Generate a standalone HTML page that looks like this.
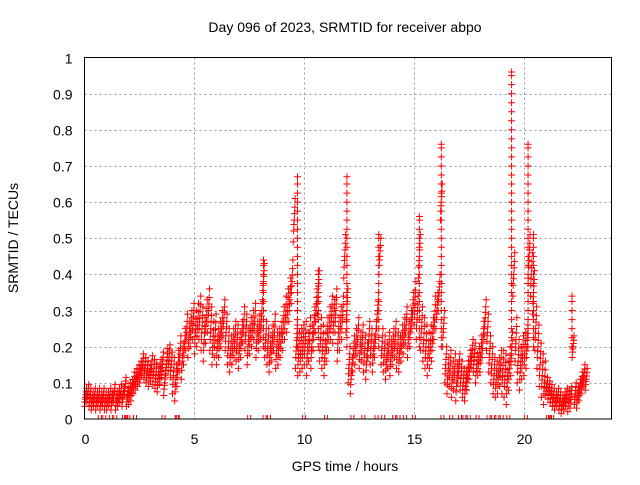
<!DOCTYPE html>
<html><head><meta charset="utf-8"><style>
body{margin:0;background:#fff}
svg text{font-family:"Liberation Sans",sans-serif;font-size:14px;fill:#000}
</style></head><body>
<svg id="chart" width="640" height="480" xmlns="http://www.w3.org/2000/svg">
<rect width="640" height="480" fill="#fff"/>
<text x="345" y="32" text-anchor="middle">Day 096 of 2023, SRMTID for receiver abpo</text>
<text x="345" y="471" text-anchor="middle">GPS time / hours</text>
<text transform="translate(18,238) rotate(-90)" text-anchor="middle">SRMTID / TECUs</text>
<g id="grid"></g><g id="marks"></g>
<rect x="84.5" y="57.5" width="527" height="361.5" fill="none" stroke="#000" stroke-width="1"/>
</svg>
<script>
const xTicks=[0,5,10,15,20];
const yTicks=[0,0.1,0.2,0.3,0.4,0.5,0.6,0.7,0.8,0.9,1];
const yTickLabels=["0","0.1","0.2","0.3","0.4","0.5","0.6","0.7","0.8","0.9","1"];
const midValues=[
.06,.07,.06,.05,.06,.05,.06,.05,.06,.05,
.05,.06,.05,.07,.05,.06,.07,.06,.09,.06,
.07,.08,.10,.11,.12,.13,.15,.14,.13,.12,
.14,.13,.12,.11,.13,.15,.10,.16,.17,.15,
.12,.10,.14,.18,.16,.20,.24,.22,.25,.27,
.24,.26,.28,.25,.22,.27,.30,.25,.21,.23,
.20,.22,.25,.28,.24,.20,.18,.20,.22,.21,
.19,.22,.26,.24,.20,.23,.25,.27,.22,.24,
.27,.38,.22,.20,.18,.21,.24,.19,.20,.22,
.25,.28,.30,.33,.38,.55,.20,.18,.19,.20,
.21,.18,.22,.20,.25,.30,.35,.22,.20,.18,
.22,.25,.28,.27,.30,.22,.25,.28,.45,.30,
.15,.12,.18,.20,.23,.19,.21,.18,.16,.22,
.20,.18,.22,.30,.45,.20,.18,.16,.19,.17,
.20,.22,.19,.18,.21,.23,.26,.22,.25,.30,
.32,.28,.45,.25,.22,.20,.18,.20,.22,.28,
.30,.35,.60,.25,.15,.12,.14,.11,.13,.10,
.14,.12,.10,.09,.12,.15,.18,.17,.14,.16,
.18,.22,.28,.24,.18,.15,.12,.11,.12,.14,
.13,.12,.10,.14,.18,.40,.22,.16,.14,.17,
.18,.20,.45,.40,.35,.25,.20,.15,.12,.10,
.09,.08,.07,.06,.05,.06,.05,.04,.05,.06,
.05,.06,.20,.07,.06,.08,.10,.12,.11];
const hourSpread=[.05,.05,.06,.07,.10,.12,.10,.10,.10,.12,.12,.12,.10,.10,.10,.12,.10,.08,.10,.12,.12,.05,.06];
const spikeTimes=[8.15,9.7,10.65,11.95,13.4,15.25,16.25,19.45,20.2,20.45,22.2];
const spikePeaks=[.44,.67,.41,.67,.51,.56,.76,.96,.76,.51,.34];
const zeroTimes=[0.7,0.9,1.2,1.4,1.8,1.9,2.0,2.3,3.6,4.2,4.25,7.5,8.2,8.4,10.0,11.0,12.2,12.7,13.3,13.6,14.1,14.3,14.6,15.0,16.3,16.7,17.1,17.3,17.5,17.9,18.4,18.6,18.8,19.0,19.3,20.1,21.1,21.2,21.3];
const X0=84.5,X1=611.5,Y0=419,Y1=57.5;
const xs=t=>X0+(t/24)*(X1-X0);
const ys=v=>Y0-(v/1)*(Y0-Y1);
const NS="http://www.w3.org/2000/svg";
const grid=document.getElementById('grid'),marks=document.getElementById('marks');
function mk(tag,a,p){const e=document.createElementNS(NS,tag);for(const k in a)e.setAttribute(k,a[k]);p.appendChild(e);return e;}
yTicks.forEach((v,i)=>{const y=Math.round(ys(v))+0.5;
 if(v>0&&v<1){const g=mk('line',{x1:X0,x2:X1,y1:y,y2:y,stroke:'#999','stroke-dasharray':'2,3'},grid);
 
 }
 const t=mk('text',{x:X0-12,y:y+5,'text-anchor':'end'},grid);t.textContent=yTickLabels[i];
 
 
});
xTicks.forEach(v=>{const x=Math.round(xs(v))+0.5;
 if(v>0){const g=mk('line',{x1:x,x2:x,y1:Y1,y2:Y0,stroke:'#999','stroke-dasharray':'2,3'},grid);
 
 }
 const t=mk('text',{x:x,y:444,'text-anchor':'middle'},grid);t.textContent=String(v);
 
 
});
let d='';
function plus(t,v){const x=xs(t),y=Math.min(ys(v),Y0);d+=`M${x-3.5} ${y}h7M${x} ${y-3.5}v7`;}
midValues.forEach((v,i)=>{const t=i*0.1+0.05;const s=hourSpread[Math.floor(t)]||0.08;
 [-1,-0.5,-0.2,0,0.3,0.6,1].forEach((k,j)=>plus(t+(j-3)*0.014,Math.max(0.01,v+k*s/2)));});
spikeTimes.forEach((t,i)=>{for(let v=0.2;v<=spikePeaks[i];v+=0.025)plus(t,v);plus(t,spikePeaks[i]);});
zeroTimes.forEach(t=>{const x=xs(t);d+=`M${x-1.5} ${Y0}v-4M${x+1.5} ${Y0}v-4`;});
const p=mk('path',{d:d,stroke:'#ff0000','stroke-width':1,fill:'none'},marks);


</script>
</body></html>
